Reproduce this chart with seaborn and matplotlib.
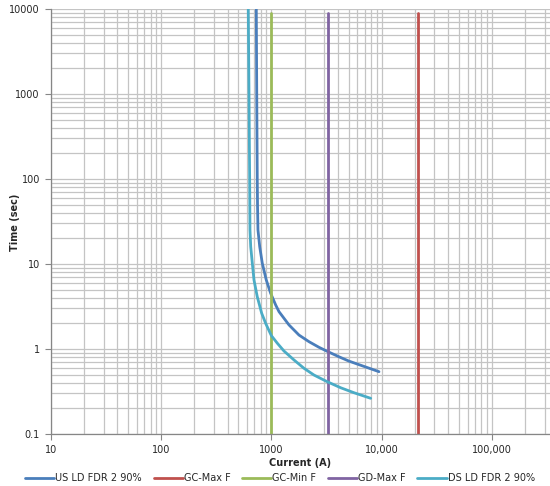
import matplotlib
matplotlib.use("Agg")
import matplotlib.pyplot as plt
import matplotlib.ticker as mticker
import seaborn as sns

# series
us_current = [728, 735, 743, 747, 754, 782, 825, 897, 983, 1092, 1170, 1441, 1775,
              2187, 2697, 3254, 4093, 5047, 9441]
us_time = [10000, 1000, 97, 50, 25.1, 16.0, 10.2, 6.48, 4.52, 3.29, 2.75, 1.92, 1.46,
           1.22, 1.047, 0.93, 0.81, 0.72, 0.541]

ds_current = [616, 625, 634, 638, 648, 670, 694, 743, 815, 886, 996, 1129, 1298,
              1600, 1972, 2429, 3206, 4245, 5598, 7940]
ds_time = [10000, 1000, 97, 25.1, 16.0, 10.2, 6.48, 4.12, 2.63, 2.0, 1.44, 1.17,
           0.947, 0.743, 0.593, 0.494, 0.412, 0.35, 0.306, 0.263]

gc_max_current = [21300, 21300]
gc_min_current = [1000, 1000]
gd_max_current = [3235, 3235]
limit_time = [0.1, 9000]

x_ticks = [10, 100, 1000, 10000, 100000]
x_tick_labels = ["10", "100", "1000", "10,000", "100,000"]
y_ticks = [0.1, 1, 10, 100, 1000, 10000]
y_tick_labels = ["0.1", "1", "10", "100", "1000", "10000"]

sns.set_style("white")
plt.rcParams['font.family'] = ['DejaVu Sans']

fig = plt.figure(figsize=(5.5, 4.86), dpi=100)
ax = fig.add_axes([51 / 550, 1 - 434 / 486, 1 - 51 / 550, 425 / 486])

series = [
    (us_current, us_time, "#4A7EBB", "US LD FDR 2 90%"),
    (gc_max_current, limit_time, "#C0504D", "GC-Max F"),
    (gc_min_current, limit_time, "#9BBB59", "GC-Min F"),
    (gd_max_current, limit_time, "#8064A2", "GD-Max F"),
    (ds_current, ds_time, "#4BACC6", "DS LD FDR 2 90%"),
]
for xs, ys, color, name in series:
    sns.lineplot(x=xs, y=ys, ax=ax, color=color, label=name, linewidth=2.0,
                 sort=False, estimator=None, legend=False)

ax.set_xscale("log")
ax.set_yscale("log")
ax.set_xlim(10, 336000)
ax.set_ylim(0.1, 10000)

ax.xaxis.set_major_locator(mticker.FixedLocator(x_ticks))
ax.xaxis.set_major_formatter(mticker.FixedFormatter(x_tick_labels))
ax.yaxis.set_major_locator(mticker.FixedLocator(y_ticks))
ax.yaxis.set_major_formatter(mticker.FixedFormatter(y_tick_labels))
ax.xaxis.set_minor_locator(mticker.LogLocator(base=10, subs=range(2, 10), numticks=20))
ax.yaxis.set_minor_locator(mticker.LogLocator(base=10, subs=range(2, 10), numticks=20))
ax.xaxis.set_minor_formatter(mticker.NullFormatter())
ax.yaxis.set_minor_formatter(mticker.NullFormatter())

ax.grid(True, which="both", color="#C4C4C4", linewidth=0.9)
ax.set_axisbelow(True)
ax.tick_params(which="major", direction="out", length=4, width=0.8, color="#868686",
               labelsize=7, labelcolor="#262626", pad=4, left=True, bottom=True)
ax.tick_params(which="minor", length=0)

for side in ["top", "right"]:
    ax.spines[side].set_visible(False)
for side in ["left", "bottom"]:
    ax.spines[side].set_color("#868686")
    ax.spines[side].set_linewidth(0.9)

ax.set_xlabel("")
ax.set_ylabel("")
fig.text(15 / 550, 1 - 222 / 486, "Time (sec)", rotation=90, ha="center", va="center",
         fontsize=7, fontweight="bold", color="#262626")
fig.text(300 / 550, 1 - 463 / 486, "Current (A)", ha="center", va="center",
         fontsize=7, fontweight="bold", color="#262626")

handles, labels = ax.get_legend_handles_labels()
fig.legend(handles, labels, loc="center", bbox_to_anchor=(280 / 550, 1 - 478 / 486),
           ncol=5, frameon=False, fontsize=7, handlelength=3.0, handletextpad=0.1,
           columnspacing=1.2, labelcolor="#262626")

fig.savefig("out.png", dpi=100)
